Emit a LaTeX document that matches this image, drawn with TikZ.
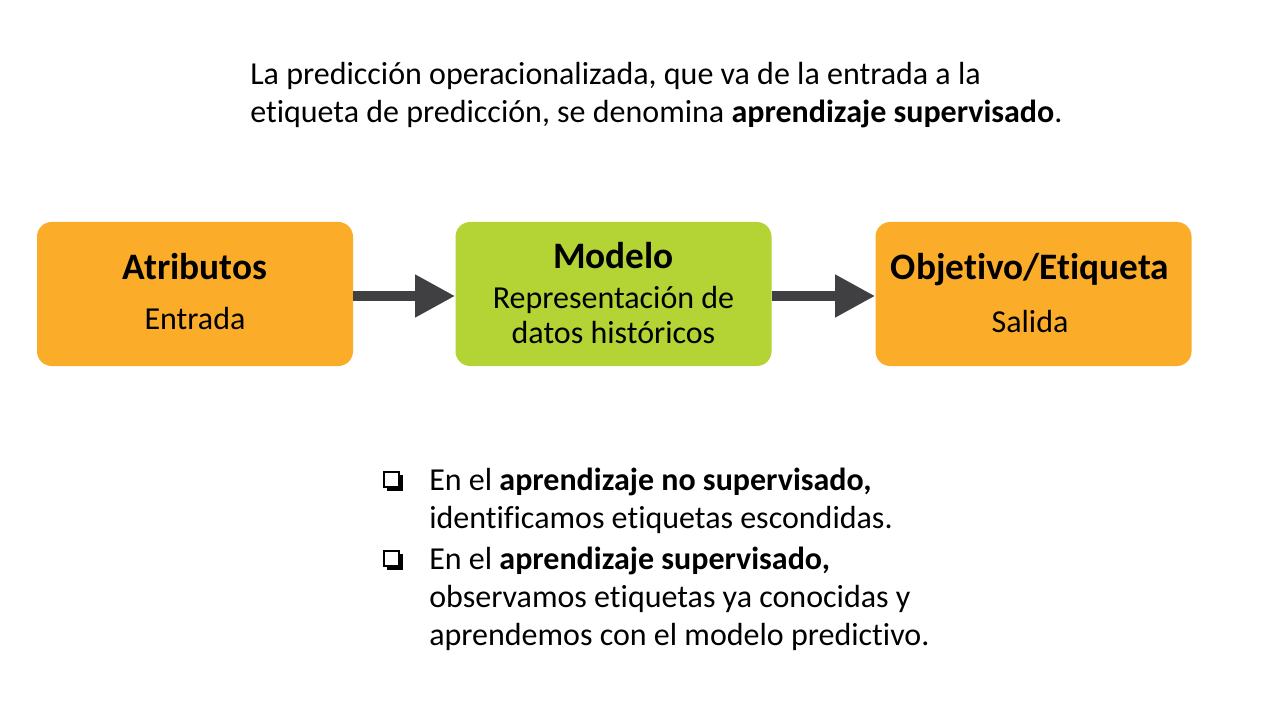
\documentclass[tikz,border=0pt]{standalone}
\usepackage{fontspec}
\setmainfont{Carlito}[Ligatures=NoCommon]
\usetikzlibrary{arrows.meta,calc}
\definecolor{AttrOrange}{HTML}{FBAD2A}
\definecolor{ModelGreen}{HTML}{B4D335}
\definecolor{ArrowGray}{HTML}{404042}
\tikzset{
  stagebox/.style={
    rounded corners=11pt,
    minimum width=237pt,
    minimum height=108pt,
    inner sep=0pt
  },
  orangebox/.style={stagebox, fill=AttrOrange},
  greenbox/.style={stagebox, fill=ModelGreen},
  boxtitle/.style={font=\fontsize{28}{32}\selectfont\bfseries, inner sep=0pt, anchor=base},
  boxsub/.style={font=\fontsize{24}{26.25}\selectfont, inner sep=0pt, anchor=base, align=center},
  bodytext/.style={font=\fontsize{24}{28.5}\selectfont, inner sep=0pt, anchor=base west, align=left},
  flowarrow/.style={ArrowGray, line width=7.5pt, -{Triangle[length=30pt,width=30pt]}},
  checkbox/.style={draw=black, fill=white, line width=1.4pt, minimum size=11pt, inner sep=0pt}
}
\newcommand{\boxbullet}[2]{%
  \fill[black] ($(#2)+(5,5)$) rectangle ++(16,16);
  \node[checkbox, anchor=north west] (#1) at ($(#2)+(1,1)$) {};
}
\begin{document}
\begin{tikzpicture}[x=0.75pt,y=-0.75pt]
  \useasboundingbox[fill=white] (0,0) rectangle (1280,720);

  % heading (base = last line)
  \node[bodytext] (intro) at (250,123)
    {La predicción operacionalizada, que va de la entrada a la\\
     etiqueta de predicción, se denomina \textbf{aprendizaje supervisado}.};

  % the three stages
  \node[orangebox] (atrib) at (195,294) {};
  \node[greenbox] (modelo) at (613.5,294) {};
  \node[orangebox] (obj) at (1033.5,294) {};

  \node[boxtitle] (atribT) at (195,279) {Atributos};
  \node[boxsub] (atribS) at (195,329) {Entrada};
  \node[boxtitle] (modeloT) at (613.5,268) {Modelo};
  \node[boxsub] (modeloS) at (613.5,343) {Representación de\\datos históricos};
  \node[boxtitle] (objT) at (1030,279) {Objetivo/Etiqueta};
  \node[boxsub] (objS) at (1030,332) {Salida};

  \draw[flowarrow] ([yshift=-1.5pt]atrib.east) -- ([yshift=-1.5pt]modelo.west);
  \draw[flowarrow] ([yshift=-1.5pt]modelo.east) -- ([yshift=-1.5pt]obj.west);

  % bullets
  \coordinate (cbA) at (382,470);
  \coordinate (cbB) at (382,549);
  \boxbullet{bulA}{cbA}
  \boxbullet{bulB}{cbB}
  \node[bodytext] (noSup) at (429,528)
    {En el \textbf{aprendizaje no supervisado,}\\
     identificamos etiquetas escondidas.};
  \node[bodytext] (sup) at (429,645)
    {En el \textbf{aprendizaje supervisado,}\\
     observamos etiquetas ya conocidas y\\
     aprendemos con el modelo predictivo.};
\end{tikzpicture}
\end{document}
